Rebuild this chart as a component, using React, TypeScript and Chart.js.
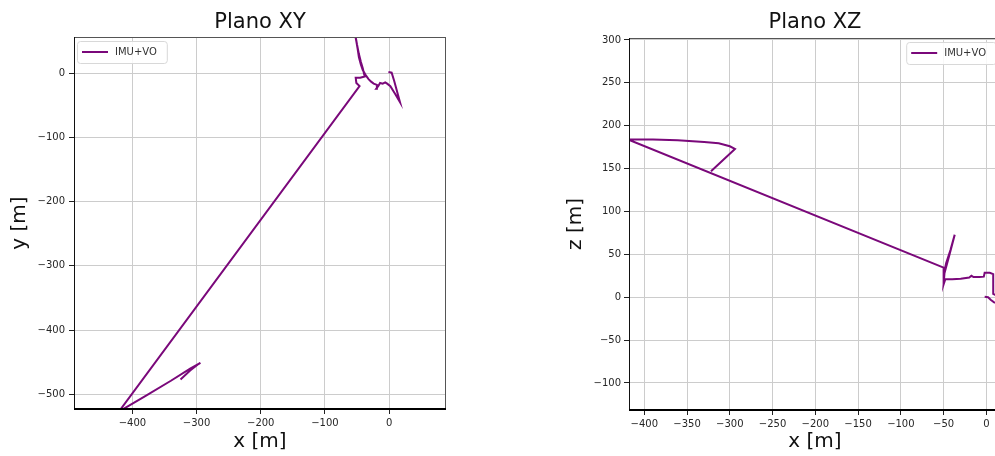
import React, { useEffect, useRef } from 'react';
import { Chart, registerables } from 'chart.js';

Chart.register(...registerables);

// ---------- data ----------
const SERIES_LABEL = 'IMU+VO';
const SERIES_COLOR = '#7a087a';

// Plano XY trajectory (x, y in metres)
const xyX = [-1, 4, 8, 17, 10, 2, -3, -6, -10, -14, -17, -20, -19, -24, -28, -32, -37, -41, -44, -47, -49, -51, -54, -56,
  -53, -50, -47, -44, -41, -38, -45, -52, -51, -46, -421, -380, -340, -310, -294, -297, -310, -325];
const xyY = [2, 1, -12, -45, -33, -20, -16, -14, -16, -15, -20, -24, -18, -16, -13, -9, -2, 5, 14, 25, 38, 50, 65, 80,
  62, 45, 30, 18, 8, -5, -7, -7, -15, -20, -527, -503, -479, -460, -451, -453, -463, -477];

// Plano XZ trajectory (x, z in metres)
const xzX = [-2, 2, 5, 9, 13, 17, 12, 8, 8, 4, -2, -3, -8, -15, -17.5, -20, -30, -40, -48, -50, -49, -43, -37, -42, -47, -50,
  -50, -419, -390, -361, -330, -313, -300, -294, -322];
const xzZ = [0.5, 0, -3, -6, -7, -4, 2, 4, 27, 28.5, 28.5, 24, 23.5, 23.5, 25, 23, 21.5, 21, 21, 15, 28, 50, 73, 55, 40, 26,
  34.5, 184, 184, 183, 181, 179.5, 176, 173, 147];

// ticks
const xyXTicks = [-400, -300, -200, -100, 0];
const xyYTicks = [-500, -400, -300, -200, -100, 0];
const xzXTicks = [-400, -350, -300, -250, -200, -150, -100, -50, 0];
const xzZTicks = [-100, -50, 0, 50, 100, 150, 200, 250, 300];

// axis ranges
const xyXRange = [-491, 88.7];
const xyYRange = [-523, 56.6];
const xzXRange = [-417.9, 17.1];
const xzZRange = [-131.5, 302.3];

const FONT = '"DejaVu Sans", "Liberation Sans", sans-serif';

const decorPlugin = {
  id: 'decor',
  afterDraw(chart: any, _args: any, opts: any) {
    const { ctx, chartArea: a } = chart;
    ctx.save();
    // spines
    ctx.lineWidth = 1;
    ctx.strokeStyle = '#555';
    ctx.beginPath();
    ctx.moveTo(a.left, a.top + 0.5);
    ctx.lineTo(a.right, a.top + 0.5);
    ctx.moveTo(a.right - 0.5, a.top);
    ctx.lineTo(a.right - 0.5, a.bottom);
    ctx.stroke();
    ctx.strokeStyle = '#111';
    ctx.beginPath();
    ctx.moveTo(a.left + 0.5, a.top);
    ctx.lineTo(a.left + 0.5, a.bottom);
    ctx.stroke();
    ctx.strokeStyle = '#000';
    ctx.lineWidth = 2;
    ctx.beginPath();
    ctx.moveTo(a.left, a.bottom);
    ctx.lineTo(a.right, a.bottom);
    ctx.stroke();

    // titles
    const cx = (a.left + a.right) / 2;
    const cy = (a.top + a.bottom) / 2;
    ctx.fillStyle = '#111';
    ctx.textAlign = 'center';
    ctx.textBaseline = 'middle';
    ctx.font = `21px ${FONT}`;
    ctx.fillText(opts.title, cx, opts.titleY);
    ctx.font = `20px ${FONT}`;
    ctx.fillText(opts.xLabel, cx, opts.xLabelY);
    ctx.save();
    ctx.translate(opts.yLabelX, cy);
    ctx.rotate(-Math.PI / 2);
    ctx.fillText(opts.yLabel, 0, 0);
    ctx.restore();

    // legend
    const ds = chart.data.datasets[0];
    ctx.font = `10px ${FONT}`;
    const tw = ctx.measureText(ds.label).width;
    const bw = 38 + tw + 10;
    const bh = 22;
    const bx = opts.legendSide === 'left' ? a.left + 3 : a.right - 5 - bw;
    const by = a.top + 4;
    ctx.beginPath();
    ctx.roundRect(bx + 0.5, by + 0.5, bw, bh, 3);
    ctx.fillStyle = 'rgba(255,255,255,0.85)';
    ctx.fill();
    ctx.strokeStyle = '#d8d8d8';
    ctx.lineWidth = 1;
    ctx.stroke();
    ctx.strokeStyle = ds.borderColor;
    ctx.lineWidth = 2;
    ctx.beginPath();
    ctx.moveTo(bx + 5, by + bh / 2);
    ctx.lineTo(bx + 31, by + bh / 2);
    ctx.stroke();
    ctx.fillStyle = '#333';
    ctx.textAlign = 'left';
    ctx.fillText(ds.label, bx + 38, by + bh / 2 + 0.5);
    ctx.restore();
  },
};

function makeScale(range: number[], ticks: number[], fitSize: number, horizontal: boolean, pad: number) {
  return {
    type: 'linear',
    min: range[0],
    max: range[1],
    afterBuildTicks: (scale: any) => {
      scale.ticks = ticks.map((v) => ({ value: v }));
    },
    afterFit: (scale: any) => {
      if (horizontal) scale.height = fitSize;
      else scale.width = fitSize;
    },
    border: { display: false },
    grid: {
      color: '#cccccc',
      lineWidth: 1,
      drawTicks: true,
      tickLength: 5,
      tickColor: '#222',
      tickWidth: 1,
    },
    ticks: {
      padding: pad,
      color: '#262626',
      font: { family: FONT, size: 10 },
      maxRotation: 0,
      autoSkip: false,
      callback: (v: any) => String(v).replace('-', '\u2212'),
    },
  };
}

function PlotChart(props: {
  left: number; width: number; xs: number[]; ys: number[];
  xRange: number[]; yRange: number[]; xTicks: number[]; yTicks: number[];
  yAxisWidth: number; xAxisHeight: number; padTop: number; padRight: number;
  title: string; xLabel: string; yLabel: string; yLabelX: number; legendSide: string; yPad: number;
}) {
  const ref = useRef<HTMLCanvasElement>(null);
  useEffect(() => {
    const data = props.xs.map((x, i) => ({ x, y: props.ys[i] }));
    const chart = new Chart(ref.current as HTMLCanvasElement, {
      type: 'scatter',
      data: {
        datasets: [
          {
            label: SERIES_LABEL,
            data,
            showLine: true,
            borderColor: SERIES_COLOR,
            backgroundColor: SERIES_COLOR,
            borderWidth: 2,
            pointRadius: 0,
            tension: 0,
          } as any,
        ],
      },
      options: {
        responsive: false,
        animation: false,
        devicePixelRatio: 1,
        layout: { padding: { top: props.padTop, right: props.padRight, left: 0, bottom: 0 } },
        plugins: {
          legend: { display: false },
          title: { display: false },
          tooltip: { enabled: false },
          decor: {
            title: props.title,
            titleY: 23,
            xLabel: props.xLabel,
            xLabelY: 442,
            yLabel: props.yLabel,
            yLabelX: props.yLabelX,
            legendSide: props.legendSide,
          },
        } as any,
        scales: {
          x: makeScale(props.xRange, props.xTicks, props.xAxisHeight, true, 3) as any,
          y: makeScale(props.yRange, props.yTicks, props.yAxisWidth, false, props.yPad) as any,
        },
      },
      plugins: [decorPlugin as any],
    });
    return () => chart.destroy();
  }, []);
  return (
    <canvas
      ref={ref}
      width={props.width}
      height={456}
      style={{ position: 'absolute', left: props.left, top: 0, width: props.width, height: 456 }}
    />
  );
}

export default function App() {
  return (
    <div
      style={{
        position: 'fixed',
        left: 0,
        top: 0,
        width: 995,
        height: 456,
        overflow: 'hidden',
        background: '#fff',
      }}
    >
      <PlotChart
        left={0}
        width={460}
        xs={xyX}
        ys={xyY}
        xRange={xyXRange}
        yRange={xyYRange}
        xTicks={xyXTicks}
        yTicks={xyYTicks}
        yAxisWidth={74}
        xAxisHeight={47}
        padTop={37}
        padRight={14}
        title="Plano XY"
        xLabel="x [m]"
        yLabel="y [m]"
        yLabelX={20}
        legendSide="left"
        yPad={4}
      />
      <PlotChart
        left={540}
        width={475}
        xs={xzX}
        ys={xzZ}
        xRange={xzXRange}
        yRange={xzZRange}
        xTicks={xzXTicks}
        yTicks={xzZTicks}
        yAxisWidth={89}
        xAxisHeight={46}
        padTop={38}
        padRight={14}
        title="Plano XZ"
        xLabel="x [m]"
        yLabel="z [m]"
        yLabelX={36}
        legendSide="right"
        yPad={3}
      />
    </div>
  );
}
